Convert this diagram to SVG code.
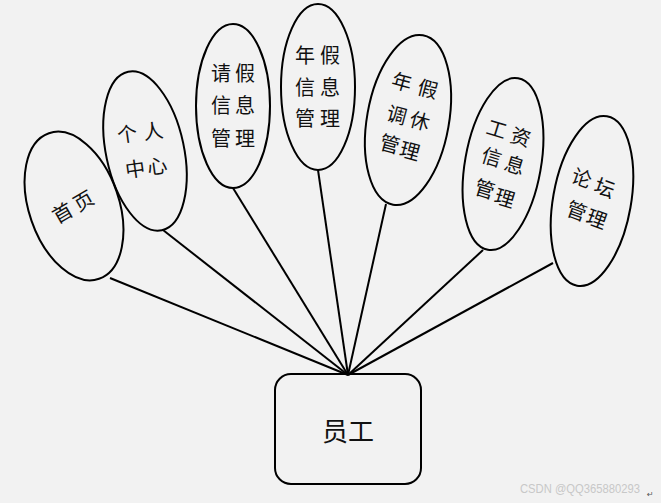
<svg xmlns="http://www.w3.org/2000/svg" width="661" height="503" viewBox="0 0 661 503">
<style>
.n{fill:none;stroke:#000;stroke-width:2}
.t{font-family:"Noto Sans CJK SC","Noto Sans",sans-serif;font-size:20px;fill:#111;text-anchor:middle;dominant-baseline:central}
.c line{stroke:#000;stroke-width:2}
</style>
<rect width="661" height="503" fill="#f2f2f2"/>
<g class="c" id="connectors">
<line x1="110" y1="278" x2="348" y2="375"/>
<line x1="163" y1="230" x2="348" y2="375"/>
<line x1="233" y1="188" x2="348" y2="375"/>
<line x1="318" y1="170" x2="348" y2="375"/>
<line x1="386" y1="204" x2="348" y2="375"/>
<line x1="483" y1="250" x2="348" y2="375"/>
<line x1="553" y1="263" x2="348" y2="375"/>
</g>
<g id="n1">
<ellipse class="n" cx="74" cy="206" rx="45" ry="77" transform="rotate(-19 74 206)"/>
<text class="t" x="62" y="212" transform="rotate(-30 62 212)">首</text>
<text class="t" x="83" y="200" transform="rotate(-30 83 200)">页</text>
</g>
<g id="n2">
<ellipse class="n" cx="145" cy="151" rx="39" ry="81" transform="rotate(-12 145 151)"/>
<text class="t" x="127" y="133" transform="rotate(-8 127 133)">个</text>
<text class="t" x="153" y="130" transform="rotate(-8 153 130)">人</text>
<text class="t" x="135" y="168" transform="rotate(-8 135 168)">中</text>
<text class="t" x="157" y="165" transform="rotate(-8 157 165)">心</text>
</g>
<g id="n3">
<ellipse class="n" cx="233" cy="106" rx="37" ry="82"/>
<text class="t" x="221" y="72">请</text>
<text class="t" x="245" y="72">假</text>
<text class="t" x="221" y="104">信</text>
<text class="t" x="245" y="104">息</text>
<text class="t" x="221" y="137">管</text>
<text class="t" x="245" y="137">理</text>
</g>
<g id="n4">
<ellipse class="n" cx="318" cy="87" rx="37" ry="83"/>
<text class="t" x="305" y="54">年</text>
<text class="t" x="330" y="54">假</text>
<text class="t" x="305" y="86">信</text>
<text class="t" x="330" y="86">息</text>
<text class="t" x="305" y="117">管</text>
<text class="t" x="330" y="117">理</text>
</g>
<g id="n5">
<ellipse class="n" cx="408" cy="120" rx="41" ry="86" transform="rotate(10 408 120)"/>
<text class="t" x="402" y="81" transform="rotate(15 402 81)">年</text>
<text class="t" x="428" y="88" transform="rotate(15 428 88)">假</text>
<text class="t" x="397" y="114" transform="rotate(15 397 114)">调</text>
<text class="t" x="420" y="120" transform="rotate(15 420 120)">休</text>
<text class="t" x="390" y="143" transform="rotate(15 390 143)">管</text>
<text class="t" x="410" y="150" transform="rotate(15 410 150)">理</text>
</g>
<g id="n6">
<ellipse class="n" cx="503" cy="164" rx="38" ry="87" transform="rotate(10 503 164)"/>
<text class="t" x="497" y="128" transform="rotate(17 497 128)">工</text>
<text class="t" x="521" y="136" transform="rotate(17 521 136)">资</text>
<text class="t" x="492" y="156" transform="rotate(17 492 156)">信</text>
<text class="t" x="515" y="164" transform="rotate(17 515 164)">息</text>
<text class="t" x="485" y="188" transform="rotate(17 485 188)">管</text>
<text class="t" x="505" y="197" transform="rotate(17 505 197)">理</text>
</g>
<g id="n7">
<ellipse class="n" cx="592" cy="201" rx="39" ry="86" transform="rotate(10 592 201)"/>
<text class="t" x="582" y="177" transform="rotate(20 582 177)">论</text>
<text class="t" x="605" y="187" transform="rotate(20 605 187)">坛</text>
<text class="t" x="577" y="210" transform="rotate(20 577 210)">管</text>
<text class="t" x="597" y="218" transform="rotate(20 597 218)">理</text>
</g>
<g id="n0">
<rect class="n" x="275" y="374" width="146" height="110" rx="16"/>
<text class="t" x="348" y="429" style="font-size:26px">员工</text>
</g>
<text x="520" y="493" textLength="120" lengthAdjust="spacingAndGlyphs" style="font-family:'Liberation Sans',sans-serif;font-size:12px;fill:#c8c8c8">CSDN @QQ365880293</text>
<text x="647" y="497" style="font-family:'DejaVu Sans',sans-serif;font-size:8px;fill:#555">↵</text>
</svg>
